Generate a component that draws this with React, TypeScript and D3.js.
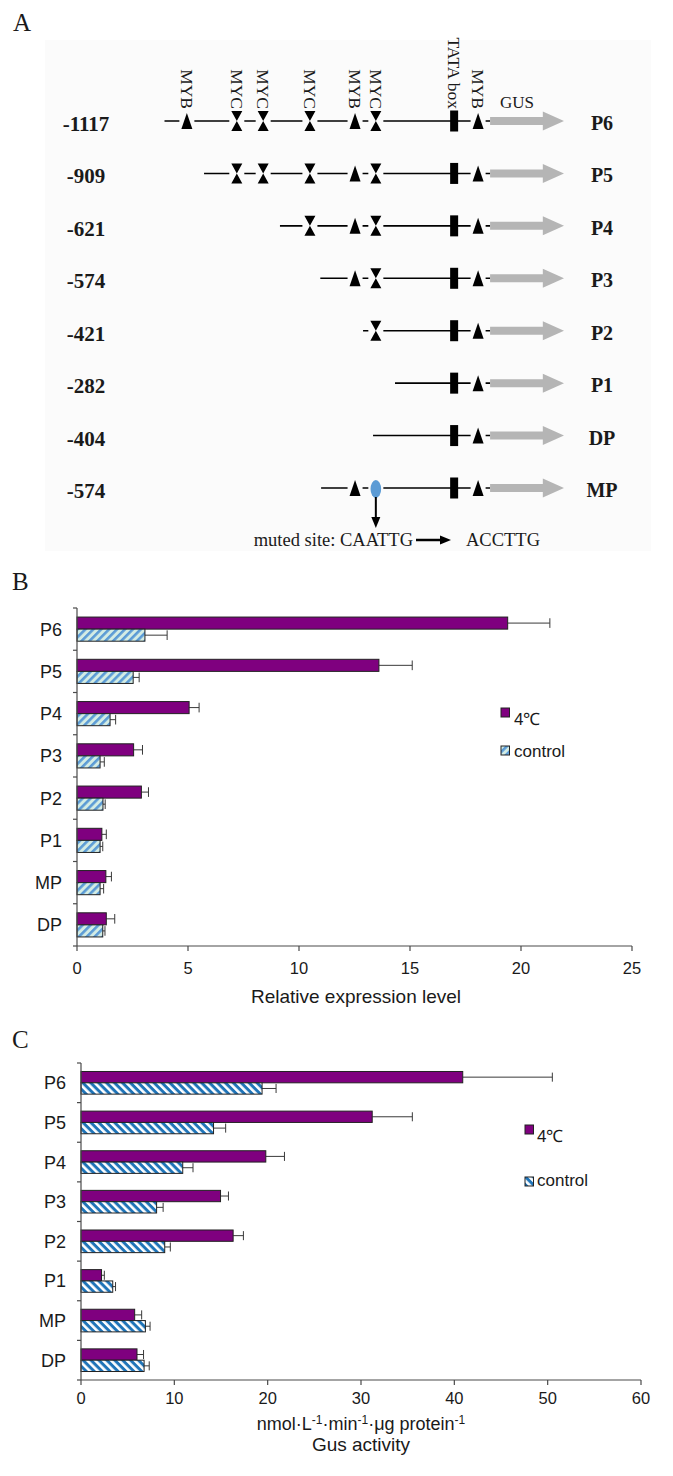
import React from 'react';
import * as d3 from 'd3';

// ---------- Panel A data (schematic promoter constructs) ----------
const constructs = ['P6', 'P5', 'P4', 'P3', 'P2', 'P1', 'DP', 'MP'];
const constructStarts = ['-1117', '-909', '-621', '-574', '-421', '-282', '-404', '-574'];
// schematic start of each promoter line (0..100 schematic units)
const lineStarts = [0, 9.9, 28.9, 39, 49.7, 57.7, 52.2, 39.2];
const siteNames = ['MYB', 'MYC', 'MYC', 'MYC', 'MYB', 'MYC', 'TATA box', 'MYB'];
const siteTypes = ['myb', 'myc', 'myc', 'myc', 'myb', 'myc', 'tata', 'myb'];
const sitePos = [5.6, 18.1, 24.7, 36.4, 47.7, 52.9, 72.5, 78.5];
const rowSites = [
  [0, 1, 2, 3, 4, 5, 6, 7],
  [1, 2, 3, 4, 5, 6, 7],
  [3, 4, 5, 6, 7],
  [4, 5, 6, 7],
  [5, 6, 7],
  [6, 7],
  [6, 7],
  [4, 5, 6, 7],
];
const mutatedConstruct = 'MP';
const mutatedSite = 5;
const lineEnd = 81.5;
const arrowHeadStart = 94.7;
const arrowEnd = 100;

// ---------- Panel B / C data ----------
const categories = ['P6', 'P5', 'P4', 'P3', 'P2', 'P1', 'MP', 'DP'];
const seriesNames = ['4℃', 'control'];

const exprCold = [19.4, 13.6, 5.05, 2.55, 2.9, 1.12, 1.3, 1.32];
const exprColdErr = [1.9, 1.5, 0.45, 0.4, 0.32, 0.2, 0.25, 0.38];
const exprControl = [3.06, 2.53, 1.49, 1.04, 1.17, 1.04, 1.04, 1.16];
const exprControlErr = [1.0, 0.27, 0.25, 0.19, 0.1, 0.12, 0.16, 0.1];

const gusCold = [40.9, 31.2, 19.8, 14.95, 16.3, 2.2, 5.75, 6.0];
const gusColdErr = [9.6, 4.3, 2.0, 0.85, 1.1, 0.3, 0.75, 0.7];
const gusControl = [19.4, 14.2, 10.9, 8.1, 8.97, 3.4, 6.9, 6.76];
const gusControlErr = [1.5, 1.3, 1.1, 0.7, 0.6, 0.3, 0.5, 0.55];

const SERIF = "'Liberation Serif', 'Times New Roman', serif";
const SANS = "'Liberation Sans', Arial, sans-serif";
const PURPLE = '#7f007f';
const AXIS = '#4a4a4a';
const TEXT = '#1a1a1a';
const BG_A = '#fbfbfb';

function PanelA() {
  const xA = d3.scaleLinear().domain([0, 100]).range([164.5, 564]);
  const yA = d3.scalePoint<string>().domain(constructs).range([121, 488]);

  const tri = (x: number, y: number) => `M${x},${y - 8}L${x + 5.5},${y + 8}L${x - 5.5},${y + 8}Z`;
  const hour = (x: number, y: number) =>
    `M${x - 5.5},${y - 10}L${x + 5.5},${y - 10}L${x},${y}Z M${x},${y}L${x + 5.5},${y + 10}L${x - 5.5},${y + 10}Z`;

  const my = yA(mutatedConstruct) as number;
  const mx = xA(sitePos[mutatedSite]);

  return (
    <g>
      <rect x={45} y={40} width={606} height={511} fill={BG_A} />
      <text x={13} y={31} fontFamily={SERIF} fontSize={25} fill={TEXT}>A</text>
      {/* site labels above P6 */}
      {siteNames.map((n, i) => (
        <text key={'sl' + i}
          transform={`translate(${xA(sitePos[i])},109) rotate(90)`}
          textAnchor="end" dominantBaseline="central"
          fontFamily={SERIF} fontSize={17.5} fill={TEXT}>{n}</text>
      ))}
      <text x={500} y={108} fontFamily={SERIF} fontSize={17} fill={TEXT}>GUS</text>
      {constructs.map((c, r) => {
        const y = yA(c) as number;
        const sites = rowSites[r];
        return (
          <g key={c}>
            <text x={86} y={y + 10} textAnchor="middle" fontFamily={SERIF} fontWeight="bold" fontSize={21} fill={TEXT}>{constructStarts[r]}</text>
            <text x={602} y={y + 9} textAnchor="middle" fontFamily={SERIF} fontWeight="bold" fontSize={20} fill={TEXT}>{c}</text>
            <line x1={xA(lineStarts[r])} x2={xA(lineEnd)} y1={y} y2={y} stroke="#000" strokeWidth={1.6} />
            {sites.map((s) => {
              const sx = xA(sitePos[s]);
              const isMut = c === mutatedConstruct && s === mutatedSite;
              if (isMut) {
                return (
                  <g key={s}>
                    <rect x={sx - 7.5} y={y - 3} width={15} height={6} fill={BG_A} />
                    <ellipse cx={sx} cy={y + 1} rx={5.3} ry={9} fill="#5b9bd5" />
                  </g>
                );
              }
              if (siteTypes[s] === 'tata') {
                return <rect key={s} x={sx - 4} y={y - 10.5} width={8} height={21} fill="#000" />;
              }
              return (
                <g key={s}>
                  <rect x={sx - 7.5} y={y - 3} width={15} height={6} fill={BG_A} />
                  <path d={siteTypes[s] === 'myb' ? tri(sx, y) : hour(sx, y)} fill="#000" />
                </g>
              );
            })}
            {/* grey GUS arrow */}
            <path
              d={`M${xA(lineEnd)},${y - 4}L${xA(arrowHeadStart)},${y - 4}L${xA(arrowHeadStart)},${y - 9.5}L${xA(arrowEnd)},${y}L${xA(arrowHeadStart)},${y + 9.5}L${xA(arrowHeadStart)},${y + 4}L${xA(lineEnd)},${y + 4}Z`}
              fill="#b5b5b5" />
          </g>
        );
      })}
      {/* mutation annotation */}
      <line x1={mx} x2={mx} y1={my + 9} y2={my + 31} stroke="#000" strokeWidth={2} />
      <path d={`M${mx - 4.5},${my + 29}L${mx + 4.5},${my + 29}L${mx},${my + 40}Z`} fill="#000" />
      <text x={413} y={546} textAnchor="end" fontFamily={SERIF} fontSize={18.5} fill={TEXT}>muted site: CAATTG</text>
      <line x1={416} x2={442} y1={540} y2={540} stroke="#000" strokeWidth={2.5} />
      <path d="M440,535.5L451,540L440,544.5Z" fill="#000" />
      <text x={466} y={546} fontFamily={SERIF} fontSize={18.5} fill={TEXT}>ACCTTG</text>
    </g>
  );
}

type BarProps = {
  x0: number; x1: number; y0: number; y1: number; max: number; nTicks: number;
  cold: number[]; coldErr: number[]; ctrl: number[]; ctrlErr: number[];
  hatch: string; labelGap: number; tickLabelOffset: number;
  legendX: number; legendY: number[]; legendTextX: number; legendTextY: number[];
};

function BarPanel(p: BarProps) {
  const x = d3.scaleLinear().domain([0, p.max]).range([p.x0, p.x1]);
  const y = d3.scaleBand<string>().domain(categories).range([p.y0, p.y1]);
  const sub = d3.scaleBand<string>().domain(['cold', 'control']).range([0, y.bandwidth()]).paddingOuter(0.75).paddingInner(0);
  const bh = sub.bandwidth();
  const capH = bh * 0.8;
  const ticks = x.ticks(p.nTicks);
  const boundaries = categories.map((c) => y(c) as number).concat([p.y1]);

  const errBar = (v: number, e: number, cy: number, key: string) => (
    <g key={key} stroke="#3a3a3a" strokeWidth={1}>
      <line x1={x(v)} x2={x(v + e)} y1={cy} y2={cy} />
      <line x1={x(v + e)} x2={x(v + e)} y1={cy - capH / 2} y2={cy + capH / 2} />
    </g>
  );

  return (
    <g>
      {categories.map((c, i) => {
        const by = y(c) as number;
        const yc = by + (sub('cold') as number);
        const yk = by + (sub('control') as number);
        return (
          <g key={c}>
            {errBar(p.cold[i], p.coldErr[i], yc + bh / 2, 'ec')}
            {errBar(p.ctrl[i], p.ctrlErr[i], yk + bh / 2, 'ek')}
            <rect x={x(0)} y={yc} width={x(p.cold[i]) - x(0)} height={bh} fill={PURPLE} stroke="#222" strokeWidth={1} />
            <rect x={x(0)} y={yk} width={x(p.ctrl[i]) - x(0)} height={bh} fill={`url(#${p.hatch})`} stroke="#222" strokeWidth={1} />
            <text x={p.x0 - p.labelGap} y={by + y.bandwidth() / 2 + 6.5} textAnchor="end"
              fontFamily={SANS} fontSize={18} fill={TEXT}>{c}</text>
          </g>
        );
      })}
      {/* y axis */}
      <line x1={p.x0} x2={p.x0} y1={p.y0} y2={p.y1} stroke={AXIS} strokeWidth={1.2} />
      {boundaries.map((b, i) => (
        <line key={'yt' + i} x1={p.x0 - 4} x2={p.x0} y1={b} y2={b} stroke={AXIS} strokeWidth={1.2} />
      ))}
      {/* x axis */}
      <line x1={p.x0} x2={p.x1} y1={p.y1} y2={p.y1} stroke={AXIS} strokeWidth={1.2} />
      {ticks.map((t) => (
        <g key={'xt' + t}>
          <line x1={x(t)} x2={x(t)} y1={p.y1} y2={p.y1 + 5} stroke={AXIS} strokeWidth={1.2} />
          <text x={x(t)} y={p.y1 + p.tickLabelOffset} textAnchor="middle" fontFamily={SANS} fontSize={16.5} fill={TEXT}>{t}</text>
        </g>
      ))}
      {/* legend */}
      <rect x={p.legendX} y={p.legendY[0]} width={8.5} height={9} fill={PURPLE} stroke="#222" strokeWidth={1} />
      <text x={p.legendTextX} y={p.legendTextY[0]} fontFamily={SANS} fontSize={17} fill={TEXT}>{seriesNames[0]}</text>
      <rect x={p.legendX} y={p.legendY[1]} width={8.5} height={9} fill={`url(#${p.hatch})`} stroke="#222" strokeWidth={1} />
      <text x={p.legendTextX} y={p.legendTextY[1]} fontFamily={SANS} fontSize={17} fill={TEXT}>{seriesNames[1]}</text>
    </g>
  );
}

export default function App() {
  return (
    <svg width={673} height={1476} viewBox="0 0 673 1476"
      style={{ position: 'absolute', left: 0, top: 0, display: 'block', background: '#fff' }}>
      <defs>
        <pattern id="hatchB" patternUnits="userSpaceOnUse" width={5.6} height={5.6} patternTransform="rotate(45)">
          <rect width={5.6} height={5.6} fill="#d3ece4" />
          <rect width={2.6} height={5.6} fill="#5b9bd5" />
        </pattern>
        <pattern id="hatchC" patternUnits="userSpaceOnUse" width={5.6} height={5.6} patternTransform="rotate(-45)">
          <rect width={5.6} height={5.6} fill="#1f74b8" />
          <rect width={2.6} height={5.6} fill="#ffffff" />
        </pattern>
      </defs>
      <rect x={0} y={0} width={673} height={1476} fill="#fff" />
      <PanelA />

      {/* Panel B */}
      <text x={12} y={590} fontFamily={SERIF} fontSize={25} fill={TEXT}>B</text>
      <BarPanel x0={77} x1={632} y0={608} y1={946} max={25} nTicks={5}
        cold={exprCold} coldErr={exprColdErr} ctrl={exprControl} ctrlErr={exprControlErr}
        hatch="hatchB" labelGap={15} tickLabelOffset={28}
        legendX={501} legendY={[708, 746]} legendTextX={514} legendTextY={[725, 757]} />
      <text x={356} y={1003} textAnchor="middle" fontFamily={SANS} fontSize={19} fill={TEXT}>Relative expression level</text>

      {/* Panel C */}
      <text x={12} y={1048} fontFamily={SERIF} fontSize={25} fill={TEXT}>C</text>
      <BarPanel x0={81} x1={641} y0={1063} y1={1380} max={60} nTicks={6}
        cold={gusCold} coldErr={gusColdErr} ctrl={gusControl} ctrlErr={gusControlErr}
        hatch="hatchC" labelGap={15} tickLabelOffset={24}
        legendX={525} legendY={[1125, 1177]} legendTextX={537} legendTextY={[1142, 1186]} />
      <text x={361} y={1430} textAnchor="middle" fontFamily={SANS} fontSize={18} fill={TEXT}>
        nmol·L<tspan fontSize={12} dy={-6}>-1</tspan><tspan dy={6}>·min</tspan><tspan fontSize={12} dy={-6}>-1</tspan><tspan dy={6}>·μg protein</tspan><tspan fontSize={12} dy={-6}>-1</tspan>
      </text>
      <text x={361} y={1451} textAnchor="middle" fontFamily={SANS} fontSize={19} fill={TEXT}>Gus activity</text>
    </svg>
  );
}
